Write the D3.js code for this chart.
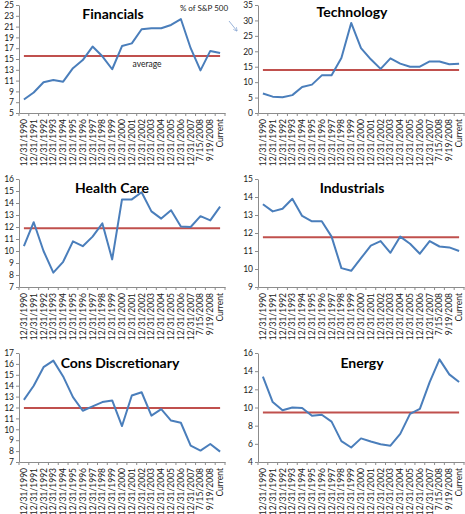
<!DOCTYPE html>
<html>
<head>
<meta charset="utf-8">
<script src="https://cdn.jsdelivr.net/npm/d3@7"></script>
<style>
  body { margin: 0; background: #fff; }
  svg text { font-family: Lato, "Liberation Sans", sans-serif; }
  .axis path, .axis line { stroke: #8c8c8c; }
  .axis text { fill: #222; font-size: 8.5px; }
  .xlab text { font-size: 8.5px; }
</style>
</head>
<body>
<div id="chart"></div>
<script>
// DATA
////////////////////////////
var categories = ["12/31/1990","12/31/1991","12/31/1992","12/31/1993","12/31/1994","12/31/1995",
  "12/31/1996","12/31/1997","12/31/1998","12/31/1999","12/31/2000","12/31/2001","12/31/2002",
  "12/31/2003","12/31/2004","12/31/2005","12/31/2006","12/31/2007","7/15/2008","9/19/2008","Current"];

var financials  = [7.5, 8.8, 10.7, 11.1, 10.8, 13.3, 14.8, 17.3, 15.5, 13.1, 17.4, 17.9, 20.5, 20.7, 20.7, 21.3, 22.4, 17.0, 12.9, 16.5, 16.1];
var technology  = [6.3, 5.3, 5.1, 5.8, 8.4, 9.2, 12.2, 12.2, 17.8, 29.2, 21.0, 17.4, 14.3, 17.7, 16.0, 15.0, 15.0, 16.7, 16.7, 15.8, 16.0];
var healthCare  = [10.4, 12.4, 10.0, 8.2, 9.1, 10.8, 10.4, 11.2, 12.3, 9.3, 14.3, 14.3, 14.9, 13.3, 12.7, 13.4, 12.05, 12.0, 12.9, 12.55, 13.7];
var industrials = [13.6, 13.2, 13.35, 13.9, 12.95, 12.65, 12.65, 11.8, 10.05, 9.9, 10.6, 11.3, 11.55, 10.9, 11.8, 11.4, 10.85, 11.55, 11.25, 11.2, 11.0];
var consDisc    = [12.7, 14.0, 15.7, 16.3, 14.85, 12.95, 11.7, 12.1, 12.5, 12.65, 10.3, 13.1, 13.4, 11.25, 11.85, 10.8, 10.6, 8.5, 8.05, 8.65, 7.95];
var energy      = [13.4, 10.6, 9.7, 10.0, 9.95, 9.1, 9.2, 8.45, 6.3, 5.6, 6.6, 6.25, 5.95, 5.8, 7.1, 9.3, 9.85, 12.8, 15.3, 13.65, 12.8];

// average line of each sector
var averages = [15.55, 13.95, 11.9, 11.76, 11.95, 9.45];

var titles = ["Financials", "Technology", "Health Care", "Industrials", "Cons Discretionary", "Energy"];
var yTicks = [d3.range(5, 26, 2), d3.range(0, 36, 5), d3.range(7, 17, 1),
              d3.range(9, 16, 1), d3.range(7, 18, 1), d3.range(4, 17, 2)];

// SETUP
////////////////////////////
var width = 465, height = 514;

var svg = d3.select("#chart").append("svg")
    .attr("width", width)
    .attr("height", height);

// panel frames (left col / right col, three rows)
var cols = [[19, 225], [258, 464]];
var rows = [[5, 113], [179, 287], [353, 462]];
var titlePos = [[113, 19], [352, 17], [112, 193], [352, 193], [120, 368], [362, 368]];

var series = [financials, technology, healthCare, industrials, consDisc, energy];

series.forEach(function(vals, i) {
  var col = cols[i % 2], row = rows[Math.floor(i / 2)];
  var tk = yTicks[i];

  var x = d3.scaleBand().domain(categories).range(col);
  var y = d3.scaleLinear().domain([tk[0], tk[tk.length - 1]]).range([row[1], row[0]]);
  var cx = function(c) { return x(c) + x.bandwidth() / 2; };

  var g = svg.append("g");

  // y axis
  g.append("g")
    .attr("class", "axis")
    .attr("transform", "translate(" + col[0] + ",0)")
    .call(d3.axisLeft(y).tickValues(tk).tickFormat(d3.format("d"))
      .tickSize(3).tickPadding(2).tickSizeOuter(0));

  // x axis (labels only, ticks go between categories)
  var xa = g.append("g")
    .attr("class", "axis xlab")
    .attr("transform", "translate(0," + row[1] + ")")
    .call(d3.axisBottom(x).tickSize(0).tickSizeOuter(0));
  xa.selectAll("text")
    .attr("transform", "rotate(-90)")
    .attr("x", -6)
    .attr("y", 0)
    .attr("dy", "0.35em")
    .style("text-anchor", "end");
  xa.selectAll(".sep")
    .data(categories.concat([null]))
    .enter().append("line")
      .attr("x1", function(d) { return d === null ? col[1] : x(d); })
      .attr("x2", function(d) { return d === null ? col[1] : x(d); })
      .attr("y1", 0).attr("y2", 3)
      .attr("stroke", "#8c8c8c");

  // average line
  g.append("path")
    .datum(categories)
    .attr("fill", "none")
    .attr("stroke", "#c0504d")
    .attr("stroke-width", 2)
    .attr("d", d3.line().x(cx).y(function() { return y(averages[i]); }));

  // sector line
  g.append("path")
    .datum(vals)
    .attr("fill", "none")
    .attr("stroke", "#4a7ebb")
    .attr("stroke-width", 2)
    .attr("stroke-linejoin", "round")
    .attr("d", d3.line().x(function(d, j) { return cx(categories[j]); }).y(function(d) { return y(d); }));

  // title
  g.append("text")
    .attr("x", titlePos[i][0])
    .attr("y", titlePos[i][1])
    .attr("text-anchor", "middle")
    .style("font-size", "14px")
    .style("font-weight", "bold")
    .text(titles[i]);

  if (i === 0) {
    g.append("text")
      .attr("x", 147).attr("y", 67)
      .attr("text-anchor", "middle")
      .style("font-size", "8.5px")
      .attr("fill", "#222")
      .text("average");
    g.append("text")
      .attr("x", 204).attr("y", 11)
      .attr("text-anchor", "middle")
      .style("font-size", "8px")
      .attr("fill", "#222")
      .text("% of S&P 500");
  }
});

// little pointer from the label to the technology axis
svg.append("defs").append("marker")
    .attr("id", "arr")
    .attr("viewBox", "0 0 10 10")
    .attr("refX", 9).attr("refY", 5)
    .attr("markerWidth", 5).attr("markerHeight", 5)
    .attr("orient", "auto")
  .append("path")
    .attr("d", "M0,0 L10,5 L0,10")
    .attr("fill", "none")
    .attr("stroke", "#7f9fcf")
    .attr("stroke-width", 1.5);

svg.append("line")
    .attr("x1", 229).attr("y1", 21)
    .attr("x2", 237).attr("y2", 31)
    .attr("stroke", "#7f9fcf")
    .attr("stroke-width", 0.8)
    .attr("marker-end", "url(#arr)");
</script>
</body>
</html>
